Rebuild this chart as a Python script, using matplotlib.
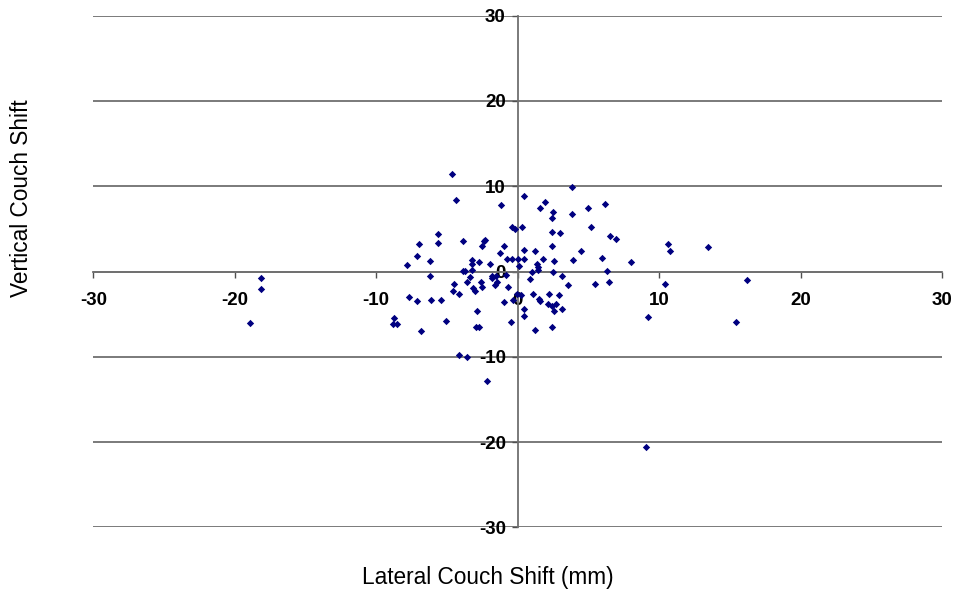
import numpy as np
import matplotlib
matplotlib.use("Agg")
import matplotlib.pyplot as plt

plt.rcParams['font.family'] = ['Liberation Sans', 'DejaVu Sans']

# lateral / vertical couch shifts
lateral = [-4.64, -4.36, -1.18, 0.47, 1.60, 1.91, -5.61, -5.65, -6.95, -3.87,
           -2.29, -2.36, -2.52, -0.99, -1.23, -0.40, -0.21, 0.33, 0.42, 1.24,
           -7.14, -6.18, -7.82, -6.18, -0.78, -0.37, -0.01, 0.46, 0.11, 1.34,
           1.46, 1.43, -3.23, -3.25, -2.71, -1.96, -3.87, -3.75, -3.25, -1.84,
           -1.80, -1.51, -0.80, 0.89, -3.39, -4.47, -2.57, -3.16, -0.66, -1.48,
           -1.60, -3.56, -4.57, -4.13, -3.02, -2.54, -0.07, 0.21, 1.01, 1.05,
           -7.66, -7.10, -6.13, -5.40, -0.97, -0.31, 0.47, 0.47, -2.88, -8.74,
           -8.81, -8.51, -5.09, -6.86, -2.93, -2.76, -0.47, 1.26, -4.13, -3.56,
           -2.17, 3.86, 2.53, 2.43, 3.82, 4.99, 6.15, 2.42, 3.01, 5.16,
           6.54, 6.97, 2.42, 4.49, 1.77, 2.59, 3.89, 5.96, 8.01, 2.53,
           6.33, 3.11, 3.58, 5.48, 6.47, 1.53, 1.58, 2.21, 2.94, 2.16,
           2.40, 2.73, 2.59, 3.11, 2.45, 9.23, 10.62, 10.78, 13.47, 10.43,
           16.20, 15.41, 9.09, -18.16, -18.14, -18.90]
vertical = [11.43, 8.35, 7.76, 8.82, 7.48, 8.11, 4.43, 3.34, 3.26, 3.61,
            3.69, 3.58, 2.95, 2.99, 2.17, 5.22, 4.98, 5.18, 2.56, 2.37,
            1.82, 1.23, 0.76, -0.56, 1.43, 1.49, 1.50, 1.44, 0.64, 0.84,
            0.57, 0.14, 1.38, 0.84, 1.11, 0.91, 0.06, 0.06, 0.14, -0.47,
            -0.76, -0.49, -0.45, -0.90, -0.68, -1.50, -1.23, -1.90, -1.76, -1.27,
            -1.55, -1.27, -2.25, -2.67, -2.25, -1.85, -2.58, -2.72, -0.02, -2.67,
            -2.99, -3.49, -3.38, -3.31, -3.58, -3.38, -4.43, -5.22, -4.63, -5.49,
            -6.15, -6.15, -5.84, -6.98, -6.47, -6.47, -5.92, -6.83, -9.79, -9.99,
            -12.80, 9.94, 7.01, 6.31, 6.78, 7.48, 7.95, 4.67, 4.48, 5.18,
            4.13, 3.85, 2.99, 2.37, 1.47, 1.27, 1.31, 1.64, 1.11, -0.02,
            0.12, -0.55, -1.55, -1.43, -1.17, -3.26, -3.46, -2.67, -2.76, -3.85,
            -4.01, -3.81, -4.63, -4.43, -6.47, -5.33, 3.19, 2.44, 2.91, -1.43,
            -1.00, -5.92, -20.61, -0.80, -2.09, -6.00]

ticks = [-30, -20, -10, 0, 10, 20, 30]

fig = plt.figure(figsize=(9.55, 5.94), dpi=100)
ax = fig.add_axes([0.0977, 0.112, 0.8887, 0.8616])

# axes cross at the origin (do this before the ticks, it resets them)
ax.spines['left'].set_position(('data', 0))
ax.spines['bottom'].set_position(('data', 0))
ax.spines['top'].set_visible(False)
ax.spines['right'].set_visible(False)
for s in ['left', 'bottom']:
    ax.spines[s].set_color('#707070')
    ax.spines[s].set_linewidth(1.3)

ax.scatter(lateral, vertical, marker='D', s=14, color='#000080', linewidths=0, zorder=3)

ax.set_xlim(-30, 30)
ax.set_ylim(-30, 30)
ax.set_xticks(ticks)
ax.set_yticks(ticks)
ax.set_xticklabels([str(t) for t in ticks], fontweight='bold', fontsize=13.5)
ax.set_yticklabels([str(t) for t in ticks], fontweight='bold', fontsize=13.5)

ax.yaxis.grid(True, color='#707070', linewidth=1.3)
ax.set_axisbelow(True)
ax.tick_params(axis='x', direction='out', length=4.5, width=1, color='#505050', pad=10.5)
ax.tick_params(axis='y', direction='out', length=4.5, width=1, color='#505050', pad=4)

fig.text(0.511, 0.027, 'Lateral Couch Shift (mm)', ha='center', va='center', fontsize=16.3)
fig.text(0.023, 0.667, 'Vertical Couch Shift', ha='center', va='center', rotation=90, fontsize=16.3)

fig.savefig('out.png', dpi=100)
